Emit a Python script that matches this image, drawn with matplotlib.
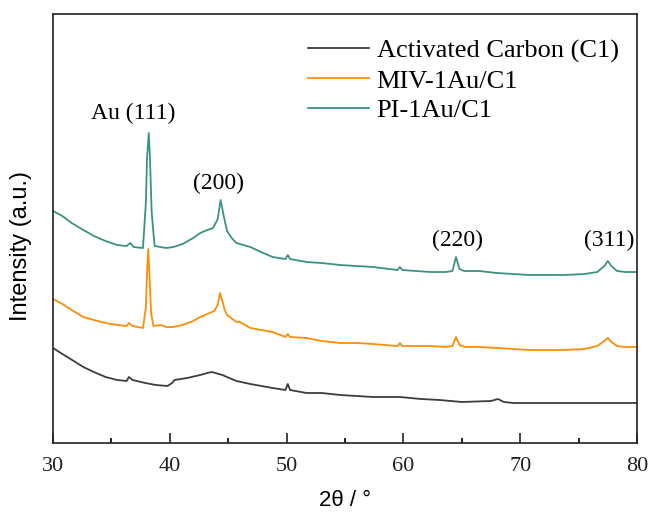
import matplotlib.pyplot as plt
from matplotlib.ticker import MultipleLocator

# XRD patterns, intensity in arbitrary units (curves already offset)
two_theta_ac = [30.0, 30.8, 31.5, 32.6, 33.5, 34.5, 35.5, 36.3, 36.5, 36.8, 37.9, 38.8,
                39.8, 40.2, 40.4, 41.5, 42.6, 43.2, 43.6, 44.5, 45.7, 46.9, 48.8, 49.9,
                50.1, 50.3, 51.7, 53.0, 54.6, 56.0, 57.4, 59.7, 61.5, 63.1, 65.0, 67.5,
                68.1, 68.6, 69.4, 71.5, 73.7, 76.0, 78.0, 80.0]
int_ac = [95, 89, 84, 76, 71, 66, 63, 62, 66, 63, 60, 58,
          57, 60, 63, 65, 68, 70, 71, 68, 62, 59, 55, 53,
          59, 53, 50, 50, 48, 47, 46, 46, 44, 43, 41, 42,
          44, 41, 40, 40, 40, 40, 40, 40]

two_theta_miv = [30.0, 30.8, 31.6, 32.6, 33.5, 34.5, 35.5, 36.3, 36.5, 36.8, 37.7, 37.95,
                 38.05, 38.15, 38.25, 38.4, 38.6, 39.2, 39.7, 40.3, 41.1, 42.0, 42.6, 43.2,
                 43.8, 44.1, 44.3, 44.5, 44.7, 44.9, 45.7, 46.0, 46.9, 48.8, 49.9, 50.1,
                 50.3, 51.7, 53.0, 54.6, 56.0, 57.4, 59.5, 59.7, 59.9, 62.3, 63.6, 64.2,
                 64.5, 64.8, 65.3, 66.5, 68.0, 70.8, 73.7, 75.5, 76.6, 77.2, 77.5, 77.8,
                 78.3, 79.0, 80.0]
int_miv = [144, 139, 133, 126, 123, 120, 118, 117, 120, 117, 115, 135,
           170, 194, 170, 130, 117, 118, 116, 116, 118, 122, 126, 129,
           132, 138, 150, 142, 133, 128, 121, 121, 115, 111, 106, 109,
           106, 105, 102, 100, 100, 99, 97, 100, 97, 97, 96, 97,
           106, 98, 96, 96, 95, 93, 93, 94, 97, 102, 105, 101,
           97, 96, 96]

two_theta_pi = [30.0, 30.8, 31.6, 32.6, 33.5, 34.5, 35.5, 36.3, 36.6, 36.9, 37.7, 37.95,
                38.05, 38.2, 38.3, 38.45, 38.7, 39.2, 39.7, 40.3, 41.1, 42.0, 42.6, 43.2,
                43.7, 44.1, 44.35, 44.6, 44.9, 45.3, 45.7, 46.9, 47.8, 48.8, 49.9, 50.1,
                50.3, 51.7, 53.0, 54.6, 56.0, 57.4, 59.5, 59.7, 59.9, 62.3, 63.6, 64.2,
                64.5, 64.8, 65.2, 66.5, 68.0, 70.8, 73.7, 75.5, 76.6, 77.2, 77.5, 77.8,
                78.3, 79.0, 80.0]
int_pi = [232, 227, 220, 213, 207, 202, 198, 197, 200, 196, 195, 240,
          285, 310, 285, 230, 197, 196, 195, 196, 199, 205, 210, 213,
          215, 224, 243, 228, 212, 205, 200, 196, 191, 186, 184, 188,
          184, 181, 180, 178, 177, 176, 173, 176, 173, 171, 171, 172,
          186, 174, 172, 172, 170, 168, 168, 169, 171, 177, 182, 177,
          172, 171, 171]

labels = ['Activated Carbon (C1)', 'MIV-1Au/C1', 'PI-1Au/C1']
colors = ['#3d3d3d', '#ff8c0a', '#3c9280']

peak_labels = ['Au (111)', '(200)', '(220)', '(311)']
peak_x = [36.85, 44.2, 64.6, 77.6]
peak_y = [330, 260, 203, 203]

serif = ['Liberation Serif', 'DejaVu Serif']
sans = ['Liberation Sans', 'DejaVu Sans']

fig = plt.figure(figsize=(6.52, 5.24), dpi=100)
ax = fig.add_axes([0.0813, 0.1546, 0.8957, 0.8186])

ax.plot(two_theta_ac, int_ac, color=colors[0], lw=1.3, label=labels[0])
ax.plot(two_theta_miv, int_miv, color=colors[1], lw=1.3, label=labels[1])
ax.plot(two_theta_pi, int_pi, color=colors[2], lw=1.3, label=labels[2])

for txt, px, py in zip(peak_labels, peak_x, peak_y):
    ax.text(px, py, txt, ha='center', va='center', fontsize=17, family=serif)

ax.set_xlim(30, 80)
ax.set_ylim(0, 429)
ax.set_yticks([])
ax.xaxis.set_major_locator(MultipleLocator(10))
ax.xaxis.set_minor_locator(MultipleLocator(5))
ax.tick_params(axis='x', which='major', direction='in', length=7, width=1.2, top=False,
               pad=10, labelsize=16, colors='#222222')
ax.tick_params(axis='x', which='minor', direction='in', length=3.5, width=1.2, top=False)
for lbl in ax.get_xticklabels():
    lbl.set_family(serif)

for sp in ax.spines.values():
    sp.set_linewidth(1.2)
    sp.set_color('#222222')

ax.set_xlabel('2θ / °', fontsize=16, family=sans, labelpad=10)
ax.set_ylabel('Intensity (a.u.)', fontsize=17, family=sans)
ax.yaxis.set_label_coords(-0.036, 0.459)

leg = ax.legend(loc='upper right', frameon=False, prop={'family': serif, 'size': 19},
                handlelength=2.3, handletextpad=0.3, labelspacing=0.24,
                borderaxespad=0.3, bbox_to_anchor=(1.0, 0.985))

fig.savefig('out.png', dpi=100)
